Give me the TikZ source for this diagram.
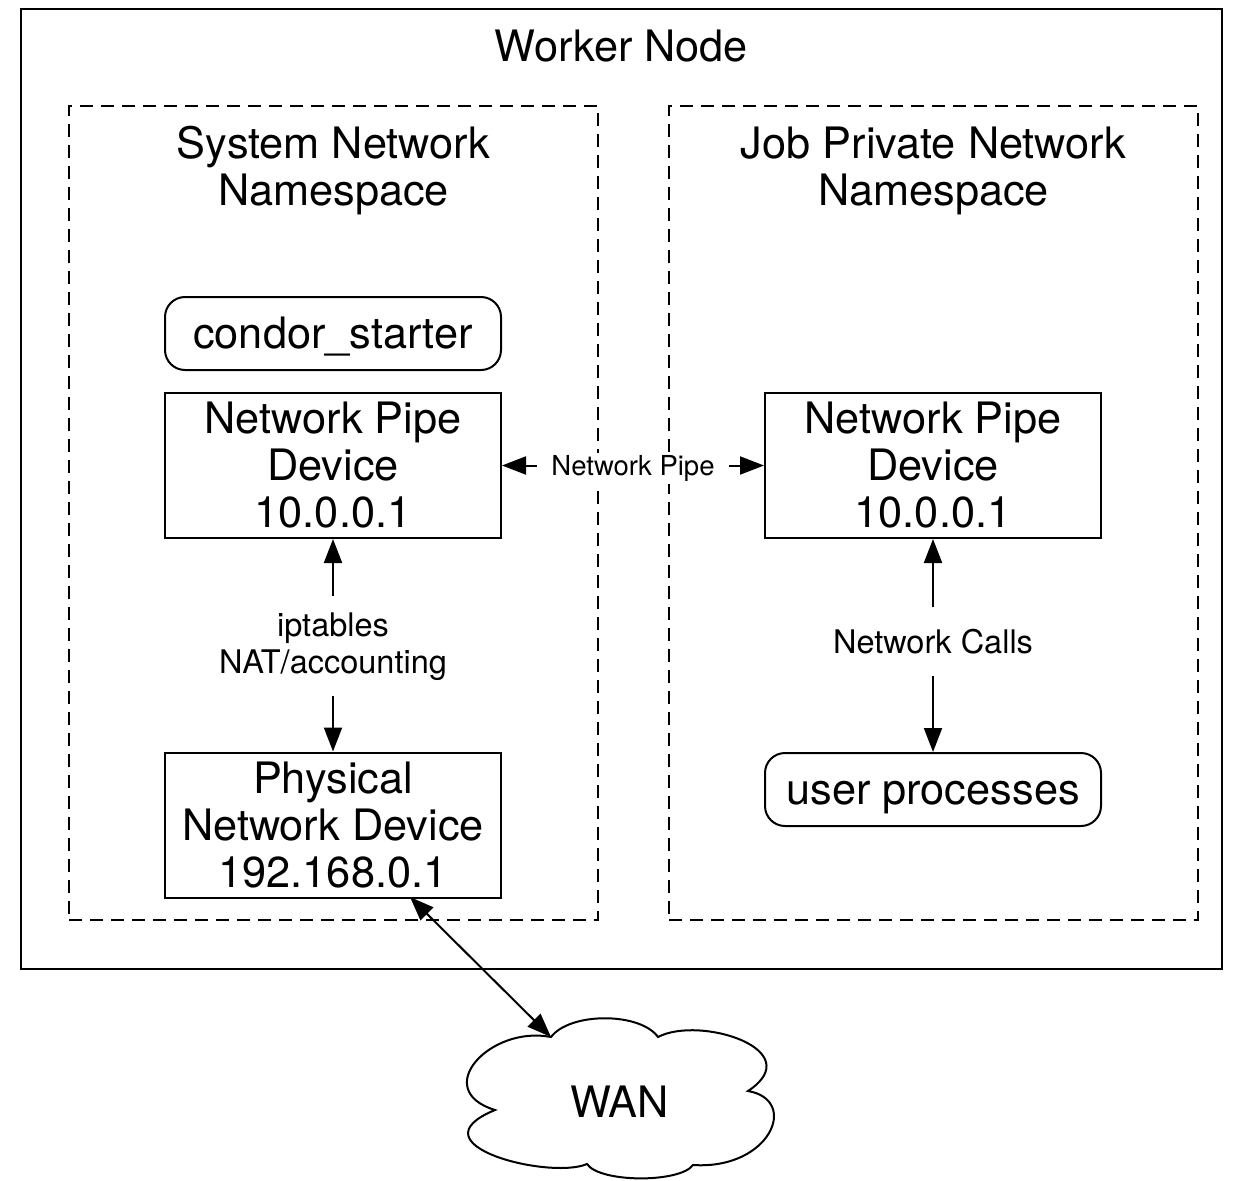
\documentclass[tikz,border=0pt]{standalone}
\usepackage{fontspec}
\setmainfont{TeX Gyre Heros}
\usetikzlibrary{arrows.meta}
\begin{document}
\begin{tikzpicture}[x=1pt,y=-1pt,
  big/.style={font=\fontsize{43.3}{47}\selectfont},
  box/.style={draw, line width=2pt, minimum width=336pt, minimum height=145pt, inner sep=0pt, align=center, big},
  rbox/.style={draw, line width=2pt, rounded corners=20pt, minimum width=336pt, minimum height=73pt, inner sep=0pt, big, text height=33pt, text depth=3pt},
  nsbox/.style={draw, dash pattern=on 13pt off 8pt, line width=2pt, minimum width=529pt, minimum height=814pt, inner sep=0pt},
  lbl/.style={fill=white, align=center, font=\fontsize{32.5}{37}\selectfont, inner xsep=4pt, inner ysep=16pt},
  tip/.tip={Triangle[length=24pt,width=18pt]},
  conn/.style={line width=2pt, tip-tip},
]
\useasboundingbox (0,0) rectangle (1233,1180);

% outer worker node
\node[draw, line width=2.5pt, minimum width=1201pt, minimum height=960pt, inner sep=0pt] (worker) at (621.5,489) {};
\node[big, anchor=base] (workertitle) at (621.5,62) {Worker Node};

% namespaces
\node[nsbox] (sysns) at (333.5,513) {};
\node[nsbox] (jobns) at (933.5,513) {};
\node[big, align=center] (systitle) at (333.5,171) {System Network\\Namespace};
\node[big, align=center] (jobtitle) at (933.5,171) {Job Private Network\\Namespace};

% system side
\node[rbox] (condor) at (333,333.5) {condor\_starter};
\node[box] (npl) at (333,465.5) {Network Pipe\\Device\\10.0.0.1};
\node[box] (phys) at (333,825) {Physical\\Network Device\\192.168.0.1};

% job side
\node[box] (npr) at (933,465.5) {Network Pipe\\Device\\10.0.0.1};
\node[rbox] (user) at (933,789.5) {user processes};

% connectors
\draw[conn] (npl.east) -- node[fill=white, font=\fontsize{27.5}{32}\selectfont, inner xsep=14pt, inner ysep=2pt, yshift=-3pt] (pipelbl) {Network Pipe} (npr.west);
\draw[conn] (npl.south) -- node[lbl, yshift=-1pt] (iptlbl) {iptables\\NAT/accounting} (phys.north);
\draw[conn] (npr.south) -- node[lbl, inner ysep=22pt, yshift=4pt] (calllbl) {Network Calls} (user.north);

% cloud
\coordinate (c1) at (551,1037);
\coordinate (c2) at (658,1037);
\coordinate (c3) at (748,1091);
\coordinate (c4) at (693,1165);
\coordinate (c5) at (587,1164);
\coordinate (c6) at (495,1110);
\draw[line width=2pt, fill=white] (c1)
  .. controls (570,1012) and (640,1012) .. (c2)
  .. controls (700,1015) and (810,1050) .. (c3)
  .. controls (800,1100) and (770,1170) .. (c4)
  .. controls (680,1183) and (600,1183) .. (c5)
  .. controls (550,1180) and (410,1145) .. (c6)
  .. controls (430,1090) and (490,1025) .. cycle;
\node[big] (wan) at (619.5,1101.5) {WAN};

\coordinate (physport) at (410,897);
\draw[conn] (physport) -- (c1);
\end{tikzpicture}
\end{document}
